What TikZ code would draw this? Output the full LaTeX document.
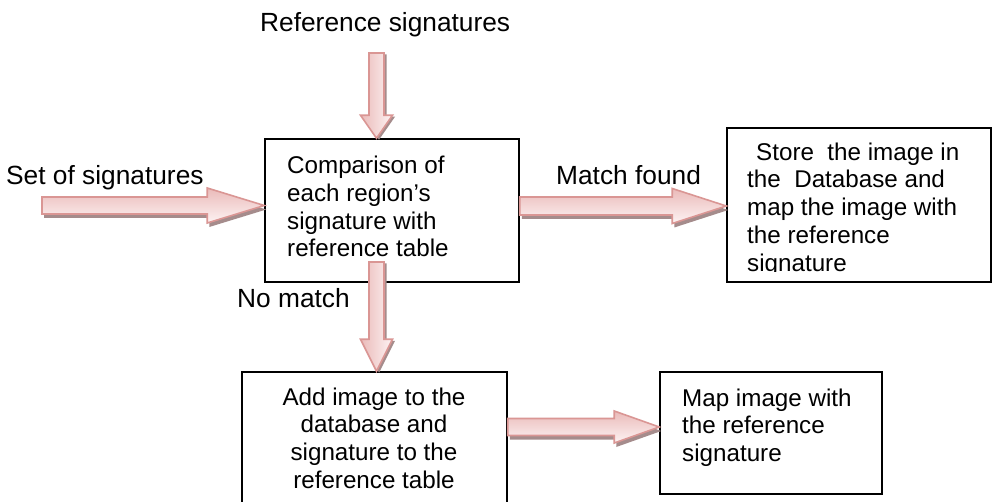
\documentclass[tikz,border=0pt]{standalone}
\usepackage{fontspec}
\setmainfont{Liberation Sans}
\usetikzlibrary{calc}
\definecolor{arrowline}{RGB}{218,150,148}
\definecolor{arrowpink}{RGB}{234,186,185}
\definecolor{arrowlight}{RGB}{253,243,243}
\definecolor{shadowc}{RGB}{165,140,140}
\tikzset{
  box/.style={draw=black, line width=1.5pt, rectangle, inner sep=0pt},
  boxtxt/.style={inner sep=0pt, font=\fontsize{24.2}{27.7}\selectfont},
  lbl/.style={inner sep=0pt, anchor=base west, font=\fontsize{26.3}{30}\selectfont},
  harrowfill/.style={draw=arrowline, line width=1.6pt, top color=arrowpink, bottom color=arrowlight},
  varrowfill/.style={draw=arrowline, line width=1.6pt, left color=arrowpink, right color=arrowlight},
  arrowshadow/.style={fill=shadowc, draw=none},
}
% block arrow polygon: #1 style #2 start #3 end #4 shaft half width #5 head half width #6 head length #7 dx #8 dy
\newcommand{\hshape}[8]{\path[#1] let \p1=(#2), \p2=(#3) in
  (\x1+#7,\y1+#4+#8) -- (\x2-#6+#7,\y1+#4+#8) -- (\x2-#6+#7,\y1+#5+#8) -- (\x2+#7,\y1+#8)
  -- (\x2-#6+#7,\y1-#5+#8) -- (\x2-#6+#7,\y1-#4+#8) -- (\x1+#7,\y1-#4+#8) -- cycle;}
\newcommand{\vshape}[8]{\path[#1] let \p1=(#2), \p2=(#3) in
  (\x1-#4+#7,\y1+#8) -- (\x1-#4+#7,\y2+#6+#8) -- (\x1-#5+#7,\y2+#6+#8) -- (\x1+#7,\y2+#8)
  -- (\x1+#5+#7,\y2+#6+#8) -- (\x1+#4+#7,\y2+#6+#8) -- (\x1+#4+#7,\y1+#8) -- cycle;}
\newcommand{\harrow}[5]{\hshape{arrowshadow}{#1}{#2}{#3}{#4}{#5}{2pt}{-4pt}\hshape{harrowfill}{#1}{#2}{#3}{#4}{#5}{0pt}{0pt}}
\newcommand{\varrow}[5]{\vshape{arrowshadow}{#1}{#2}{#3}{#4}{#5}{2.5pt}{-1.5pt}\vshape{varrowfill}{#1}{#2}{#3}{#4}{#5}{0pt}{0pt}}
\begin{document}
\begin{tikzpicture}[x=1pt,y=-1pt]
\useasboundingbox (0,0) rectangle (992,502);
\fill[white] (0,0) rectangle (992,502);

% boxes
\node[box, minimum width=254pt, minimum height=143pt] (cmp) at (392,210.5) {};
\node[box, minimum width=264pt, minimum height=154pt] (store) at (859,205) {};
\node[box, minimum width=265pt, minimum height=134pt] (add) at (374.5,439) {};
\node[box, minimum width=222pt, minimum height=122pt] (map) at (771,433) {};

% box texts
\node[boxtxt, anchor=north west, align=left] (cmptxt) at (287,156)
  {Comparison of\\each region’s\\signature with\\reference table};
\begin{scope}
\clip (727,128) rectangle (991,272);
\node[boxtxt, anchor=north west, align=left] (storetxt) at (747,142.5)
  {\hspace*{9pt}Store\ \ the image in\\the\ \ Database and\\map the image with\\the reference\\signature};
\end{scope}
\node[boxtxt, anchor=north, align=center] (addtxt) at (374,387.5)
  {Add image to the\\database and\\signature to the\\reference table};
\node[boxtxt, anchor=north west, align=left] (maptxt) at (682,388.5)
  {Map image with\\the reference\\signature};

% labels
\node[lbl] (reflbl) at (260,31.5) {Reference signatures};
\node[lbl] (setlbl) at (6,185) {Set of signatures};
\node[lbl] (matchlbl) at (556,185) {Match found};
\node[lbl] (nolbl) at (237,307) {No match};

% connector ends
\coordinate (setin) at (42,205.5);
\coordinate (refin) at (376.5,53);
\coordinate (nmstart) at (376.5,262);
\coordinate (mstart) at ($(cmp.east)+(0,-4.5)$);
\coordinate (bstart) at ($(add.east)+(0,-12)$);

% block arrows
\harrow{setin}{cmp.west |- setin}{8.5pt}{17.5pt}{57pt}
\harrow{mstart}{store.west |- mstart}{9pt}{17.5pt}{54pt}
\varrow{refin}{refin |- cmp.north}{7.5pt}{16pt}{23pt}
\varrow{nmstart}{nmstart |- add.north}{7.5pt}{16pt}{32pt}
\harrow{bstart}{map.west |- bstart}{8.5pt}{16pt}{45pt}
\end{tikzpicture}
\end{document}
